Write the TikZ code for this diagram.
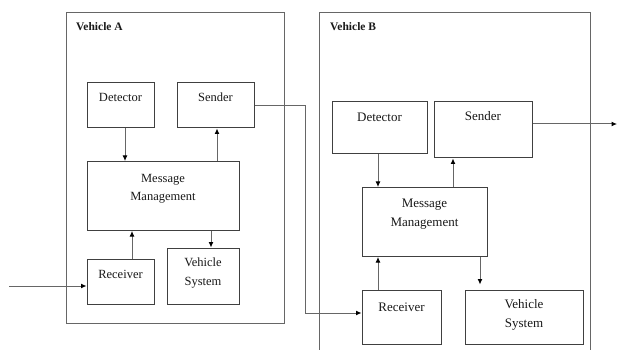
\documentclass[tikz,border=0pt]{standalone}
\usepackage{fontspec}
\setmainfont{Liberation Serif}
\usetikzlibrary{arrows.meta}

\tikzset{
  box/.style={draw=black!75, line width=1pt, inner sep=0pt},
  frame/.style={draw=black!60, line width=1pt},
  txtA/.style={text=black!90, inner sep=0pt, align=center,
    font=\fontsize{12.5}{18.5}\selectfont},
  txtB/.style={text=black!90, inner sep=0pt, align=center,
    font=\fontsize{13}{18.5}\selectfont},
  title/.style={anchor=west, inner sep=0pt, text=black!90,
    font=\fontsize{11.5}{13}\selectfont\bfseries},
  arr/.style={draw=black!60, line width=1pt,
    -{Latex[length=5.5pt,width=5pt,color=black]}},
}

\begin{document}
\begin{tikzpicture}[x=1pt, y=-1pt]
\useasboundingbox (0,0) rectangle (619,350);
\clip (0,0) rectangle (619,350);

% ---------- Vehicle A ----------
\node[frame, minimum width=218pt, minimum height=310pt] (vehA) at (175,168) {};
\node[title] (titA) at (76,27) {Vehicle A};

\node[box, minimum width=67pt, minimum height=45pt] (detA) at (120.5,105.5) {};
\node[box, minimum width=77pt, minimum height=45pt] (sndA) at (215.5,105.5) {};
\node[box, minimum width=152pt, minimum height=69pt] (mmA) at (163,196) {};
\node[box, minimum width=67pt, minimum height=45pt] (rcvA) at (120.5,281.5) {};
\node[box, minimum width=72pt, minimum height=56pt] (vsA) at (203,276) {};

\node[txtA] (detAt) at (120.5,97) {Detector};
\node[txtA] (sndAt) at (215.5,97) {Sender};
\node[txtA] (mmAt) at (163,189) {Message\\Management};
\node[txtA] (rcvAt) at (120.5,274) {Receiver};
\node[txtA] (vsAt) at (203,273) {Vehicle\\System};

\coordinate (xa1) at (125,0);
\coordinate (xa2) at (217,0);
\coordinate (xa3) at (132,0);
\coordinate (xa4) at (211,0);
\draw[arr] (detA.south -| xa1) -- (mmA.north -| xa1);
\draw[arr] (mmA.north -| xa2) -- (sndA.south -| xa2);
\draw[arr] (rcvA.north -| xa3) -- (mmA.south -| xa3);
\draw[arr] (mmA.south -| xa4) -- (vsA.north -| xa4);

\coordinate (inA) at (9,286);
\draw[arr] (inA) -- (rcvA.west |- inA);

% ---------- Vehicle B ----------
\draw[frame] (319,360) -- (319,13) -- (590,13) -- (590,360);
\node[title] (titB) at (330,27) {Vehicle B};

\node[box, minimum width=95pt, minimum height=52pt] (detB) at (379.5,128) {};
\node[box, minimum width=98pt, minimum height=56pt] (sndB) at (483,130) {};
\node[box, minimum width=125pt, minimum height=69pt] (mmB) at (424.5,222) {};
\node[box, minimum width=79pt, minimum height=54pt] (rcvB) at (401.5,317) {};
\node[box, minimum width=118pt, minimum height=54pt] (vsB) at (524,317) {};

\node[txtB] (detBt) at (379.5,117) {Detector};
\node[txtB] (sndBt) at (483,116) {Sender};
\node[txtB] (mmBt) at (424.5,214) {Message\\Management};
\node[txtB] (rcvBt) at (401.5,307) {Receiver};
\node[txtB] (vsBt) at (524,315) {Vehicle\\System};

\coordinate (xb1) at (378,0);
\coordinate (xb2) at (453,0);
\coordinate (xb4) at (480,0);
\draw[arr] (detB.south -| xb1) -- (mmB.north -| xb1);
\draw[arr] (mmB.north -| xb2) -- (sndB.south -| xb2);
\draw[arr] (rcvB.north -| xb1) -- (mmB.south -| xb1);
\draw[arr, shorten >=5pt] (mmB.south -| xb4) -- (vsB.north -| xb4);

% ---------- link A -> B and output of B ----------
\coordinate (link) at (305,313);
\draw[arr] (sndA.east) -| (link) -- (rcvB.west |- link);

\coordinate (outB) at (617,124);
\draw[arr] (sndB.east |- outB) -- (outB);
\end{tikzpicture}
\end{document}
